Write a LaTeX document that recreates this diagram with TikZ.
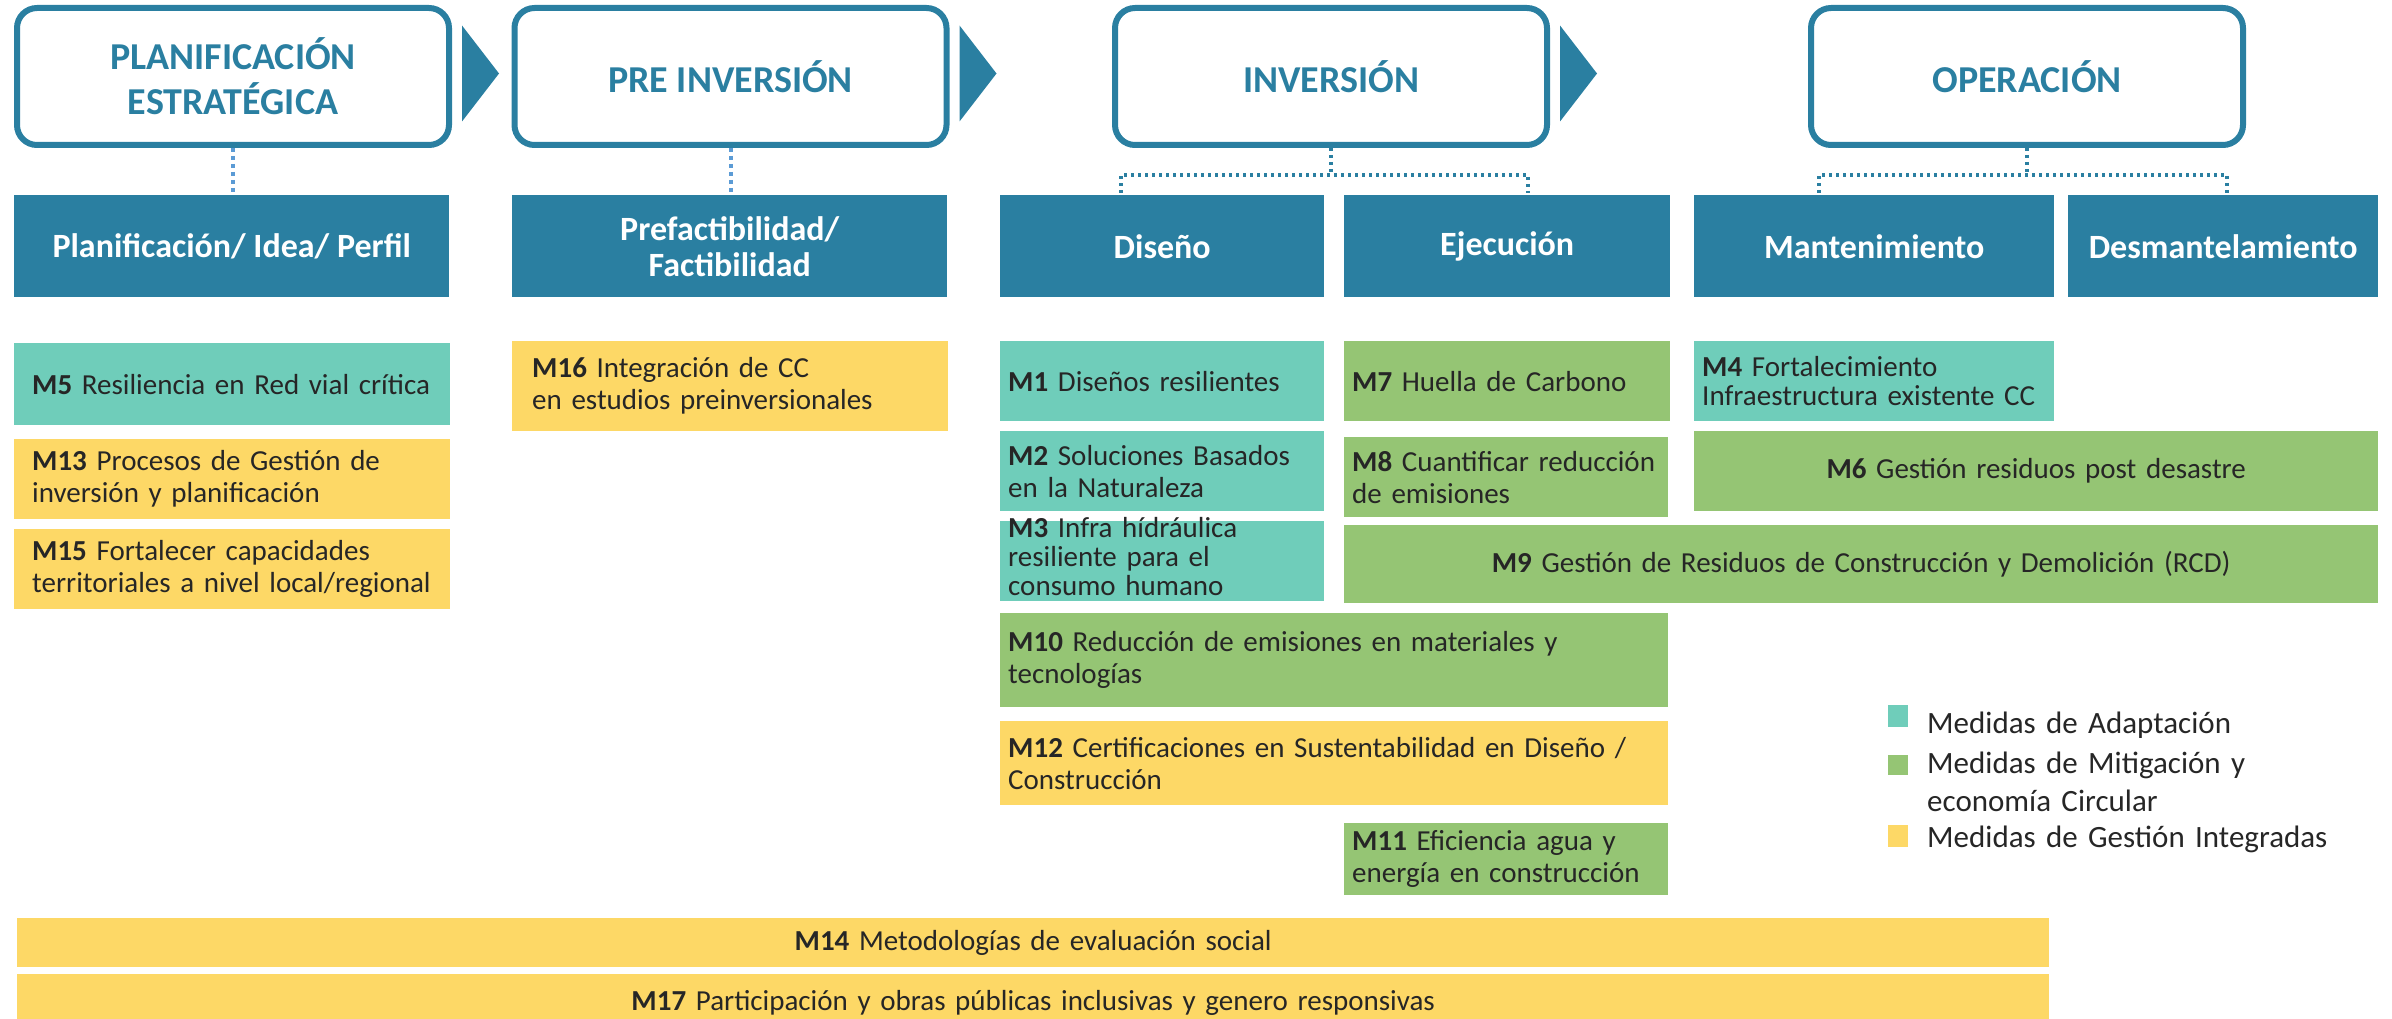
\documentclass[tikz,border=0pt]{standalone}
\usepackage{fontspec}
\setmainfont{Carlito}
\usetikzlibrary{positioning}

\definecolor{phaseblue}{HTML}{2A7FA1}
\definecolor{dotblue}{HTML}{5B9BD5}
\definecolor{adapt}{HTML}{6FCDBA}
\definecolor{mitig}{HTML}{95C574}
\definecolor{gestion}{HTML}{FDD866}
\definecolor{txt}{HTML}{262626}

\begin{document}
\begin{tikzpicture}[x=1pt,y=-1pt,
  phase/.style={draw=phaseblue,line width=6pt,fill=white,rounded corners=20pt,
    minimum width=432pt,minimum height=137pt,inner sep=0pt,align=center,
    text=phaseblue,font=\fontsize{38}{45}\selectfont\bfseries},
  stage/.style={fill=phaseblue,anchor=north west,minimum height=102pt,inner sep=0pt,
    align=center,text=white,font=\fontsize{34}{36}\selectfont\bfseries},
  meas/.style={anchor=north west,inner xsep=8pt,inner ysep=0pt,align=left,
    text=txt,font=\fontsize{29}{32}\selectfont},
  adaptbox/.style={meas,fill=adapt},
  mitigbox/.style={meas,fill=mitig},
  gestbox/.style={meas,fill=gestion},
  dotline/.style={draw=dotblue,line width=4pt,dash pattern=on 4pt off 4pt},
  bracket/.style={draw=phaseblue,line width=3.5pt,dash pattern=on 3pt off 4pt},
  legsq/.style={anchor=north west,minimum width=20pt,minimum height=22pt,inner sep=0pt},
  legtext/.style={anchor=base west,inner sep=0pt,text width=455pt,align=left,
    text=txt,font=\fontsize{31}{38}\selectfont}]

\path[use as bounding box,clip] (0,0) rectangle (2392,1019) ;

\node[phase] (plan) at (233,76.5) {PLANIFICACIÓN\\ESTRATÉGICA} ;
\node[phase] (preinv) at (730.5,76.5) {PRE INVERSIÓN} ;
\node[phase] (inv) at (1331,76.5) {INVERSIÓN} ;
\node[phase] (oper) at (2027,76.5) {OPERACIÓN} ;

\fill[phaseblue] ([xshift=10pt]plan.east) ++(0,-51) -- ++(37,48) -- ++(-37,48) -- cycle ;
\fill[phaseblue] ([xshift=10pt]preinv.east) ++(0,-51) -- ++(37,48) -- ++(-37,48) -- cycle ;
\fill[phaseblue] ([xshift=10pt]inv.east) ++(0,-51) -- ++(37,48) -- ++(-37,48) -- cycle ;

\node[stage,minimum width=435pt] (st1) at (14,195) {Planificación/ Idea/ Perfil} ;
\node[stage,minimum width=435pt] (st2) at (512,195) {Prefactibilidad/\\Factibilidad} ;
\node[stage,minimum width=324pt] (st3) at (1000,195) {Diseño} ;
\node[stage,minimum width=326pt] (st4) at (1344,195) {Ejecución} ;
\node[stage,minimum width=360pt] (st5) at (1694,195) {Mantenimiento} ;
\node[stage,minimum width=310pt] (st6) at (2068,195) {Desmantelamiento} ;

\draw[dotline] (plan.south) -- (plan.south |- st1.north) ;
\draw[dotline] (preinv.south) -- (preinv.south |- st2.north) ;

\coordinate (invL) at (1121,193) ;
\coordinate (invR) at (1528,193) ;
\coordinate (operL) at (1819,193) ;
\coordinate (operR) at (2227,193) ;
\draw[bracket] (inv.south) -- ++(0,27) ;
\draw[bracket] (invL) -- ++(0,-18) -| (invR) ;
\draw[bracket] (oper.south) -- ++(0,27) ;
\draw[bracket] (operL) -- ++(0,-18) -| (operR) ;

\node[adaptbox,inner xsep=18pt,text width=400pt,minimum height=82pt] (m5) at (14,343)
  {\textbf{M5} Resiliencia en Red vial crítica} ;
\node[gestbox,inner xsep=18pt,text width=400pt,minimum height=80pt] (m13) at (14,439)
  {\textbf{M13} Procesos de Gestión de\\inversión y planificación} ;
\node[gestbox,inner xsep=18pt,text width=400pt,minimum height=80pt] (m15) at (14,529)
  {\textbf{M15} Fortalecer capacidades\\territoriales a nivel local/regional} ;

\node[gestbox,inner xsep=20pt,text width=396pt,minimum height=90pt] (m16) at (512,341)
  {\textbf{M16} Integración de CC\\en estudios preinversionales} ;

\node[adaptbox,text width=308pt,minimum height=80pt] (m1) at (1000,341)
  {\textbf{M1} Diseños resilientes} ;
\node[adaptbox,text width=308pt,minimum height=80pt] (m2) at (1000,431)
  {\textbf{M2} Soluciones Basados\\en la Naturaleza} ;
\node[adaptbox,text width=308pt,minimum height=80pt,text height=16pt,text depth=64pt,
  font=\fontsize{29}{29}\selectfont] (m3) at (1000,521)
  {\textbf{M3} Infra hídráulica\\resiliente para el\\consumo humano} ;
\node[mitigbox,text width=652pt,minimum height=94pt] (m10) at (1000,613)
  {\textbf{M10} Reducción de emisiones en materiales y\\tecnologías} ;
\node[gestbox,text width=652pt,minimum height=84pt] (m12) at (1000,721)
  {\textbf{M12} Certificaciones en Sustentabilidad en Diseño /\\Construcción} ;

\node[mitigbox,text width=310pt,minimum height=80pt] (m7) at (1344,341)
  {\textbf{M7} Huella de Carbono} ;
\node[mitigbox,text width=308pt,minimum height=80pt] (m8) at (1344,437)
  {\textbf{M8} Cuantificar reducción\\de emisiones} ;
\node[mitigbox,text width=1018pt,minimum height=78pt,align=center] (m9) at (1344,525)
  {\textbf{M9} Gestión de Residuos de Construcción y Demolición (RCD)} ;
\node[mitigbox,text width=308pt,minimum height=72pt] (m11) at (1344,823)
  {\textbf{M11} Eficiencia agua y\\energía en construcción} ;

\node[adaptbox,text width=344pt,minimum height=80pt,font=\fontsize{29}{29}\selectfont] (m4) at (1694,341)
  {\textbf{M4} Fortalecimiento\\Infraestructura existente CC} ;
\node[mitigbox,text width=668pt,minimum height=80pt,align=center] (m6) at (1694,431)
  {\textbf{M6} Gestión residuos post desastre} ;

\node[gestbox,text width=2016pt,minimum height=49pt,align=center] (m14) at (17,918)
  {\textbf{M14} Metodologías de evaluación social} ;
\node[gestbox,text width=2016pt,minimum height=58pt,align=center] (m17) at (17,974)
  {\textbf{M17} Participación y obras públicas inclusivas y genero responsivas} ;

\node[legsq,fill=adapt] (lgA) at (1888,705) {} ;
\node[legsq,fill=mitig,minimum height=20pt] (lgB) at (1888,755) {} ;
\node[legsq,fill=gestion] (lgC) at (1888,825) {} ;
\node[legtext] (lgAt) at (1927,733) {Medidas de Adaptación} ;
\node[legtext] (lgBt) at (1927,773) {Medidas de Mitigación y\\economía Circular} ;
\node[legtext] (lgCt) at (1927,847) {Medidas de Gestión Integradas} ;

\end{tikzpicture}
\end{document}
